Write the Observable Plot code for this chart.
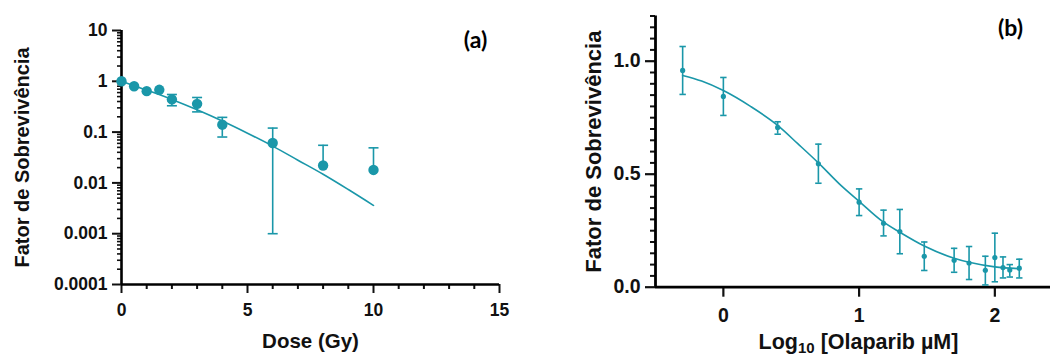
<!DOCTYPE html>
<html>
<head>
<meta charset="utf-8">
<script src="https://cdn.jsdelivr.net/npm/d3@7"></script>
<script src="https://cdn.jsdelivr.net/npm/@observablehq/plot@0.6"></script>
<style>
  html, body { margin: 0; padding: 0; background: #fff; overflow: hidden; }
  #wrap { position: relative; width: 1050px; height: 356px; }
  #a { position: absolute; left: 0; top: 0; width: 525px; }
  #b { position: absolute; left: 525px; top: 0; width: 525px; }
  #a svg, #b svg { max-width: none !important; }
</style>
</head>
<body>
<div id="wrap"><div id="a"></div><div id="b"></div></div>
<script>
// ---------- Panel (a): dose-response (log survival) ----------
const doseGy     = [0, 0.5, 1, 1.5, 2, 3, 4, 6, 8, 10];
const survivalA  = [1.0, 0.80, 0.64, 0.68, 0.44, 0.36, 0.14, 0.061, 0.022, 0.018];
const upperA     = [null, null, null, null, 0.55, 0.48, 0.195, 0.12, 0.055, 0.049];
const lowerA     = [null, null, null, null, 0.33, 0.25, 0.08, 0.001, null, null];
const fitDoseA   = [0, 1, 2, 3, 4, 5, 6, 7, 8, 9, 10];
const fitSurvA   = [1.0, 0.67, 0.44, 0.275, 0.165, 0.095, 0.053, 0.028, 0.0148, 0.0074, 0.0036];
const xTicksA    = [0, 5, 10, 15];
const xLabelsA   = ["0", "5", "10", "15"];
const xMinorA    = [1, 2, 3, 4, 6, 7, 8, 9, 11, 12, 13, 14];
const yTicksA    = [10, 1, 0.1, 0.01, 0.001, 0.0001];
const yLabelsA   = ["10", "1", "0.1", "0.01", "0.001", "0.0001"];

// ---------- Panel (b): Olaparib ----------
const logConcB   = [-0.30, 0, 0.40, 0.70, 1.0, 1.18, 1.30, 1.48, 1.70, 1.81, 1.93, 2.0, 2.06, 2.11, 2.18];
const survivalB  = [0.959, 0.844, 0.707, 0.546, 0.376, 0.283, 0.246, 0.137, 0.119, 0.107, 0.075, 0.131, 0.087, 0.076, 0.084];
const upperB     = [1.065, 0.928, 0.732, 0.633, 0.435, 0.341, 0.344, 0.200, 0.172, 0.180, 0.137, 0.239, 0.134, 0.100, 0.124];
const lowerB     = [0.853, 0.760, 0.677, 0.460, 0.317, 0.227, 0.148, 0.074, 0.066, 0.034, 0.010, 0.024, 0.041, 0.045, 0.041];
const fitXB      = [-0.30, -0.16, 0, 0.2, 0.4, 0.55, 0.7, 0.87, 1.0, 1.17, 1.3, 1.48, 1.7, 1.81, 2.0, 2.18];
const fitYB      = [0.937, 0.912, 0.870, 0.800, 0.716, 0.634, 0.550, 0.448, 0.380, 0.292, 0.243, 0.182, 0.128, 0.110, 0.090, 0.082];
const xTicksB    = [0, 1, 2];
const xLabelsB   = ["0", "1", "2"];
const yTicksB    = [0, 0.5, 1.0];
const yLabelsB   = ["0.0", "0.5", "1.0"];

const yTitle = "Fator de Sobrevivência";
const xTitleA = "Dose (Gy)";
const panelA = "(a)", panelB = "(b)";

const teal = "#1a97a9";
const font = "'Liberation Sans', Arial, Helvetica, sans-serif";

// horizontal cap symbol for error bars (half-width = r)
const capSym = {draw(ctx, size) { const w = Math.sqrt(size / Math.PI); ctx.moveTo(-w, 0); ctx.lineTo(w, 0); }};

// ----- build panel (a) -----
const ptsA = doseGy.map((d, i) => ({x: d, y: survivalA[i], hi: upperA[i], lo: lowerA[i]}));
const fitA = fitDoseA.map((d, i) => ({x: d, y: fitSurvA[i]}));
const yMinorA = [];
for (let e = -4; e <= 0; e++) for (let k = 2; k <= 9; k++) yMinorA.push(+(k * Math.pow(10, e)).toPrecision(3));

const plotA = Plot.plot({
  width: 525, height: 356,
  marginLeft: 121, marginRight: 26, marginTop: 30, marginBottom: 72,
  x: {domain: [0, 15]},
  y: {type: "log", domain: [0.0001, 10]},
  style: {fontFamily: font, fontWeight: "bold", color: "#111", background: "#fff"},
  marks: [
    Plot.axisX({ticks: xMinorA, tickSize: 5, tickFormat: () => "", label: null, strokeWidth: 2}),
    Plot.axisX({ticks: xTicksA, tickSize: 9, tickFormat: () => "", label: null, strokeWidth: 2}),
    Plot.axisY({ticks: yMinorA, tickSize: 4, tickFormat: () => "", label: null, strokeWidth: 1.6}),
    Plot.axisY({ticks: yTicksA, tickSize: 9, tickFormat: () => "", label: null, strokeWidth: 2}),
    Plot.text(xTicksA, {x: d => d, frameAnchor: "bottom", dy: 19, lineAnchor: "top", textAnchor: "middle", text: (d, i) => xLabelsA[i], fontSize: 17.5, fontWeight: "bold", fill: "#111"}),
    Plot.text(yTicksA, {y: d => d, frameAnchor: "left", dx: -14, lineAnchor: "middle", textAnchor: "end", text: (d, i) => yLabelsA[i], fontSize: 17.5, fontWeight: "bold", fill: "#111"}),
    Plot.ruleX([0], {stroke: "#000", strokeWidth: 2.6}),
    Plot.ruleY([0.0001], {stroke: "#000", strokeWidth: 2.6}),
    Plot.line(fitA, {x: "x", y: "y", stroke: teal, strokeWidth: 1.6, curve: "monotone-x"}),
    Plot.ruleX(ptsA.filter(d => d.hi != null), {x: "x", y1: "y", y2: "hi", stroke: teal, strokeWidth: 1.6}),
    Plot.ruleX(ptsA.filter(d => d.lo != null), {x: "x", y1: "y", y2: "lo", stroke: teal, strokeWidth: 1.6}),
    Plot.dot(ptsA.filter(d => d.hi != null), {x: "x", y: "hi", symbol: capSym, r: 5, stroke: teal, fill: "none", strokeWidth: 1.6}),
    Plot.dot(ptsA.filter(d => d.lo != null), {x: "x", y: "lo", symbol: capSym, r: 5, stroke: teal, fill: "none", strokeWidth: 1.6}),
    Plot.dot(ptsA, {x: "x", y: "y", r: 5.2, fill: teal, stroke: "none"}),
    Plot.text([yTitle], {frameAnchor: "left", rotate: -90, dx: -93, textAnchor: "middle", lineAnchor: "bottom", text: d => d, fontSize: 20, fontWeight: "bold", fill: "#111"}),
    Plot.text([xTitleA], {frameAnchor: "bottom", dy: 63, textAnchor: "middle", lineAnchor: "bottom", text: d => d, fontSize: 20.5, fontWeight: "bold", fill: "#111"}),
    Plot.text([panelA], {frameAnchor: "top-right", dx: -24, dy: 17, lineAnchor: "bottom", textAnchor: "middle", text: d => d, fontSize: 23, fontWeight: "bold", fontFamily: "Lato, 'Open Sans', sans-serif", fill: "#000"})
  ]
});
document.getElementById("a").appendChild(plotA);

// ----- build panel (b) -----
const ptsB = logConcB.map((d, i) => ({x: d, y: survivalB[i], hi: upperB[i], lo: lowerB[i]}));
const fitB = fitXB.map((d, i) => ({x: d, y: fitYB[i]}));
const yMinorB = d3.range(1, 25).map(k => +(k * 0.05).toFixed(2)).filter(v => !yTicksB.includes(v));

const plotB = Plot.plot({
  width: 525, height: 356,
  marginLeft: 130, marginRight: 0, marginTop: 15.5, marginBottom: 69.3,
  x: {domain: [-0.5, 2.41]},
  y: {domain: [0, 1.2]},
  style: {fontFamily: font, fontWeight: "bold", color: "#111", background: "#fff"},
  marks: [
    Plot.axisX({ticks: xTicksB, tickSize: 10, tickFormat: () => "", label: null, strokeWidth: 2.2}),
    Plot.axisY({ticks: yMinorB, tickSize: 5, tickFormat: () => "", label: null, strokeWidth: 2}),
    Plot.axisY({ticks: yTicksB, tickSize: 10, tickFormat: () => "", label: null, strokeWidth: 2.2}),
    Plot.text(xTicksB, {x: d => d, frameAnchor: "bottom", dy: 21, lineAnchor: "top", textAnchor: "middle", text: (d, i) => xLabelsB[i], fontSize: 19.5, fontWeight: "bold", fill: "#111"}),
    Plot.text(yTicksB, {y: d => d, frameAnchor: "left", dx: -15, lineAnchor: "middle", textAnchor: "end", text: (d, i) => yLabelsB[i], fontSize: 19.5, fontWeight: "bold", fill: "#111"}),
    Plot.ruleX([-0.5], {stroke: "#000", strokeWidth: 2.8}),
    Plot.ruleY([0], {stroke: "#000", strokeWidth: 2.8}),
    Plot.line(fitB, {x: "x", y: "y", stroke: teal, strokeWidth: 1.6, curve: "monotone-x"}),
    Plot.ruleX(ptsB, {x: "x", y1: "lo", y2: "hi", stroke: teal, strokeWidth: 1.6}),
    Plot.dot(ptsB, {x: "x", y: "hi", symbol: capSym, r: 3.2, stroke: teal, fill: "none", strokeWidth: 1.6}),
    Plot.dot(ptsB, {x: "x", y: "lo", symbol: capSym, r: 3.2, stroke: teal, fill: "none", strokeWidth: 1.6}),
    Plot.dot(ptsB, {x: "x", y: "y", r: 2.6, fill: teal, stroke: "none"}),
    Plot.text([yTitle], {frameAnchor: "left", rotate: -90, dx: -55, textAnchor: "middle", lineAnchor: "bottom", text: d => d, fontSize: 22, fontWeight: "bold", fill: "#111"}),
    Plot.text([panelB], {frameAnchor: "top-right", dx: -40, dy: 20, lineAnchor: "bottom", textAnchor: "middle", text: d => d, fontSize: 23, fontWeight: "bold", fontFamily: "Lato, 'Open Sans', sans-serif", fill: "#000"})
  ]
});
document.getElementById("b").appendChild(plotB);

// x title with subscript for panel (b)
const frameCenterB = (130 + 525) / 2 + 6;
const t = d3.select(plotB).append("text")
  .attr("x", frameCenterB).attr("y", 349)
  .attr("text-anchor", "middle")
  .attr("font-family", font).attr("font-weight", "bold").attr("font-size", 21.5).attr("fill", "#111");
t.append("tspan").text("Log");
t.append("tspan").attr("font-size", 15).attr("dy", 4).text("10");
t.append("tspan").attr("dy", -4).text(" [Olaparib µM]");
</script>
</body>
</html>
